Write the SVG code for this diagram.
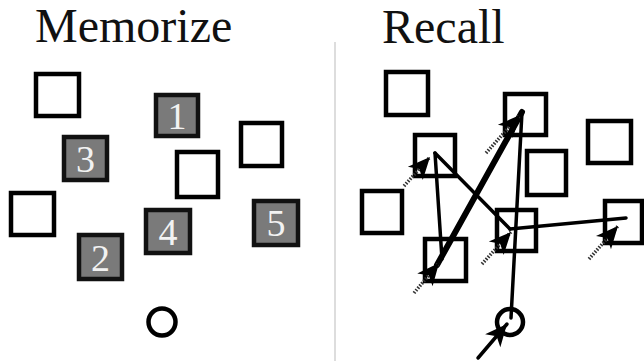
<svg xmlns="http://www.w3.org/2000/svg" width="644" height="361" viewBox="0 0 644 361">
<style>
.box{fill:#fff;stroke:#000;stroke-width:4.5}
.num{fill:#7a7a7a;stroke:#111;stroke-width:4.5}
.dig{font-family:"Liberation Serif","Times New Roman",serif;font-size:38px;fill:#f2f2f2;text-anchor:middle}
.title{font-family:"Liberation Serif","Times New Roman",serif;font-size:48px;fill:#111}
.path{fill:none;stroke:#000;stroke-width:3.5;stroke-linecap:round}
.thick{stroke-width:6}
.tail{fill:none;stroke:#333;stroke-width:3.5;stroke-dasharray:1.5 1.5}
.ring{fill:#fff;stroke:#000;stroke-width:4.5}
</style>
<defs>
<marker id="ah" markerUnits="userSpaceOnUse" markerWidth="26" markerHeight="22" refX="22" refY="10" orient="auto" overflow="visible">
<path d="M0,0 L22,10 L0,20 L6,10 z" fill="#000"/>
</marker>
</defs>
<rect width="644" height="361" fill="#fff"/>
<line x1="335" y1="42" x2="335" y2="361" stroke="#bbb" stroke-width="1"/>
<text class="title" x="35" y="42">Memorize</text>
<text class="title" x="382" y="43">Recall</text>

<g id="memorize">
<g id="m-e1"><rect class="box" x="36" y="74" width="43" height="42"/></g>
<g id="m-b1"><rect class="num" x="156" y="95" width="42" height="41"/><text class="dig" x="177" y="129">1</text></g>
<g id="m-b3"><rect class="num" x="64" y="137" width="43" height="43"/><text class="dig" x="85.5" y="172">3</text></g>
<g id="m-e2"><rect class="box" x="241" y="123" width="41" height="43"/></g>
<g id="m-e3"><rect class="box" x="177" y="152" width="41" height="45"/></g>
<g id="m-e4"><rect class="box" x="11" y="193" width="43" height="42"/></g>
<g id="m-b4"><rect class="num" x="146" y="210" width="44" height="43"/><text class="dig" x="168" y="245">4</text></g>
<g id="m-b2"><rect class="num" x="79" y="235" width="43" height="44"/><text class="dig" x="100.5" y="271">2</text></g>
<g id="m-b5"><rect class="num" x="254" y="201" width="44" height="44"/><text class="dig" x="276" y="236">5</text></g>
<g id="m-fix"><circle class="ring" cx="162" cy="322" r="13.5"/></g>
</g>

<g id="recall">
<g id="r-1"><rect class="box" x="386" y="72" width="42" height="43"/></g>
<g id="r-2"><rect class="box" x="505" y="94" width="41" height="41"/></g>
<g id="r-3"><rect class="box" x="588" y="121" width="43" height="42"/></g>
<g id="r-4"><rect class="box" x="415" y="135" width="40" height="41"/></g>
<g id="r-5"><rect class="box" x="527" y="151" width="39" height="44"/></g>
<g id="r-6"><rect class="box" x="362" y="191" width="40" height="42"/></g>
<g id="r-7"><rect class="box" x="497" y="210" width="39" height="41"/></g>
<g id="r-8"><rect class="box" x="605" y="201" width="37" height="42"/></g>
<g id="r-9"><rect class="box" x="425" y="239" width="41" height="42"/></g>
<g id="r-fix"><circle class="ring" cx="510" cy="322" r="13"/></g>
</g>

<g id="connectors">
<line class="path" x1="511" y1="318" x2="522" y2="112"/>
<line class="path thick" x1="522" y1="112" x2="437" y2="265"/>
<line class="path" x1="442" y1="259" x2="435" y2="153"/>
<line class="path" x1="435" y1="153" x2="510" y2="229"/>
<line class="path" x1="510" y1="229" x2="626" y2="218"/>
<line class="path" x1="478" y1="358" x2="507" y2="324" marker-end="url(#ah)"/>
<line class="tail" x1="486" y1="153" x2="520" y2="115" marker-end="url(#ah)"/>
<line class="tail" x1="404" y1="186" x2="430" y2="157" marker-end="url(#ah)"/>
<line class="tail" x1="414" y1="293" x2="439" y2="263" marker-end="url(#ah)"/>
<line class="tail" x1="482" y1="264" x2="511" y2="232" marker-end="url(#ah)"/>
<line class="tail" x1="589" y1="259" x2="618" y2="226" marker-end="url(#ah)"/>
</g>
</svg>
